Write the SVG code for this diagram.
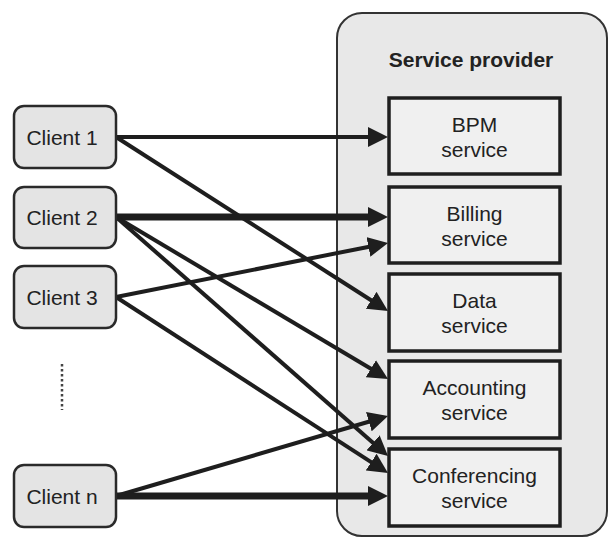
<svg xmlns="http://www.w3.org/2000/svg" width="608" height="538" viewBox="0 0 608 538">
<style>
text{font-family:"Liberation Sans",Arial,sans-serif;font-size:21px;fill:#222;text-anchor:middle}
.title{font-weight:bold}
.client rect{fill:#e4e4e4;stroke:#2a2a2a;stroke-width:2.5}
.svc rect{fill:#f0f0f0;stroke:#1e1e1e;stroke-width:3.5}
.conn line{stroke:#1e1e1e;stroke-width:4;marker-end:url(#ah)}
.conn line.thick{stroke-width:7}
</style>
<defs>
<marker id="ah" viewBox="0 0 20 20" refX="6" refY="10" markerWidth="20" markerHeight="20" markerUnits="userSpaceOnUse" orient="auto">
<path d="M0,0 L20,10 L0,20 z" fill="#1e1e1e"/>
</marker>
</defs>
<g id="service-provider">
<rect x="337" y="13" width="270" height="523" rx="25" fill="#e8e8e8" stroke="#333" stroke-width="2"/>
<text class="title" x="471" y="67">Service provider</text>
</g>
<g id="connectors" class="conn">
<line x1="116" y1="137" x2="374" y2="137"/>
<line x1="116" y1="137" x2="376.2" y2="303.5"/>
<line class="thick" x1="116" y1="217" x2="374" y2="217"/>
<line x1="116" y1="217" x2="376" y2="371.8"/>
<line x1="116" y1="217" x2="377.5" y2="446.8"/>
<line x1="116" y1="297" x2="374.3" y2="245.7"/>
<line x1="116" y1="297" x2="376.2" y2="465.4"/>
<line x1="116" y1="496" x2="374.6" y2="420"/>
<line class="thick" x1="116" y1="496" x2="374" y2="496"/>
</g>
<g id="bpm" class="svc">
<rect x="389" y="98" width="171" height="76"/>
<text x="474.5" y="132">BPM</text>
<text x="474.5" y="157">service</text>
</g>
<g id="billing" class="svc">
<rect x="389" y="187" width="171" height="76"/>
<text x="474.5" y="221">Billing</text>
<text x="474.5" y="246">service</text>
</g>
<g id="data" class="svc">
<rect x="389" y="274" width="171" height="77"/>
<text x="474.5" y="308">Data</text>
<text x="474.5" y="333">service</text>
</g>
<g id="accounting" class="svc">
<rect x="389" y="361" width="171" height="77"/>
<text x="474.5" y="395">Accounting</text>
<text x="474.5" y="420">service</text>
</g>
<g id="conferencing" class="svc">
<rect x="389" y="449" width="171" height="77"/>
<text x="474.5" y="483">Conferencing</text>
<text x="474.5" y="508">service</text>
</g>
<g id="client1" class="client">
<rect x="14" y="106" width="102" height="62" rx="10"/>
<text x="62" y="145">Client 1</text>
</g>
<g id="client2" class="client">
<rect x="14" y="187" width="102" height="61" rx="10"/>
<text x="62" y="225">Client 2</text>
</g>
<g id="client3" class="client">
<rect x="14" y="266" width="102" height="62" rx="10"/>
<text x="62" y="305">Client 3</text>
</g>
<g id="ellipsis">
<line x1="62" y1="364" x2="62" y2="410" stroke="#444" stroke-width="2.5" stroke-dasharray="2.5 2.5"/>
</g>
<g id="clientn" class="client">
<rect x="14" y="465" width="102" height="62" rx="10"/>
<text x="62" y="504">Client n</text>
</g>
</svg>
